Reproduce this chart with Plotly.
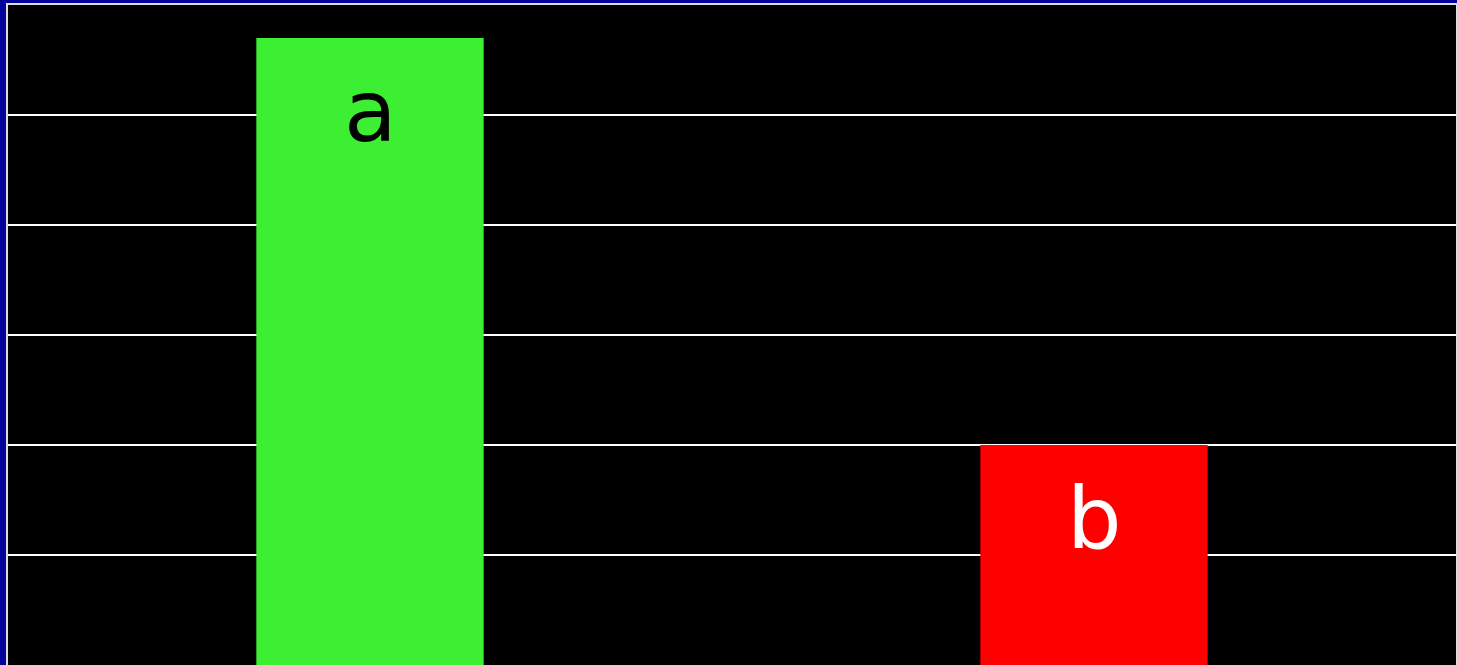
import plotly.graph_objects as go

categories = ["a", "b"]
values = [5.7, 2.0]
labels = ["a", "b"]
bar_colors = ["#3def33", "#ff0000"]
text_colors = ["#000000", "#ffffff"]

fig = go.Figure(
    go.Bar(
        x=categories,
        y=values,
        marker=dict(color=bar_colors, line=dict(width=0)),
        width=0.314,
        hoverinfo="skip",
    )
)

for cat, val, lab, col in zip(categories, values, labels, text_colors):
    fig.add_annotation(
        x=cat, y=val, xref="x", yref="y",
        text=lab, showarrow=False,
        yanchor="top", xanchor="center",
        yshift=-21,
        font=dict(family="DejaVu Sans", size=86, color=col),
    )

fig.update_layout(
    width=1457,
    height=665,
    margin=dict(l=8, r=1, t=5, b=0),
    paper_bgcolor="#03039b",
    plot_bgcolor="#000000",
    showlegend=False,
)
fig.update_xaxes(
    range=[-0.5, 1.5],
    showticklabels=False,
    showgrid=False,
    ticks="",
    showline=True,
    mirror=True,
    linecolor="#dddddd",
    linewidth=2,
)
fig.update_yaxes(
    range=[0, 6],
    dtick=1,
    showticklabels=False,
    showgrid=True,
    gridcolor="#ffffff",
    gridwidth=2,
    zeroline=False,
    ticks="",
    showline=True,
    mirror=True,
    linecolor="#dddddd",
    linewidth=2,
)

fig.write_html(
    "out.html",
    config={"displayModeBar": False},
    post_script="document.body.style.margin='0';document.body.style.overflow='hidden';",
)
